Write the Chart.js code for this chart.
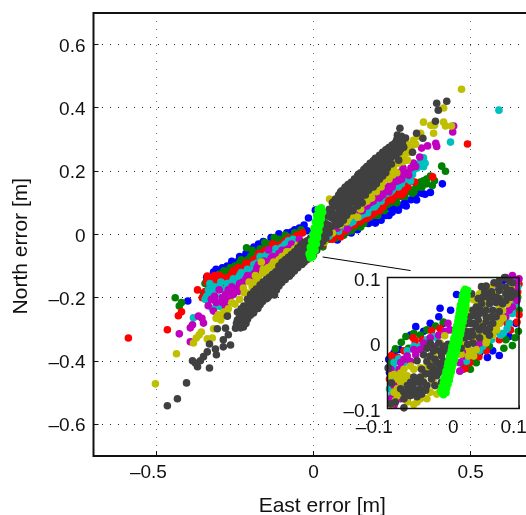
<!DOCTYPE html>
<html>
<head>
<meta charset="utf-8">
<script src="https://cdn.jsdelivr.net/npm/chart.js@4"></script>
<style>
  html, body { margin: 0; padding: 0; background: #fff; overflow: hidden; }
  #wrap { position: relative; width: 526px; height: 515px; overflow: hidden; }
  canvas { position: absolute; }
  #mainChart { left: 0; top: 0; }
  #insetChart { left: 320px; top: 262px; }
</style>
</head>
<body>
<div id="wrap">
  <canvas id="mainChart" width="540" height="515"></canvas>
  <canvas id="insetChart" width="220" height="190"></canvas>
</div>
<script>
// tick labels
const xTicks = [-0.5, 0, 0.5];
const yTicks = [-0.6, -0.4, -0.2, 0, 0.2, 0.4, 0.6];
const insetTicks = [-0.1, 0, 0.1];

// [east, north], main axes
const bluePoints = [[-0.4,-0.21],[-0.318,-0.119],[-0.33,-0.15],[-0.3,-0.115],[-0.285,-0.122],[-0.31,-0.135],[-0.27,-0.11],[-0.255,-0.095],[-0.24,-0.085],[-0.25,-0.11],[-0.22,-0.075],[-0.2,-0.06],[-0.21,-0.085],[-0.185,-0.05],[-0.17,-0.055],[-0.16,-0.022],[-0.145,-0.035],[-0.15,-0.05],[-0.125,-0.02],[-0.105,-0.005],[-0.115,-0.03],[-0.09,-0.01],[-0.07,0.008],[-0.075,-0.02],[-0.05,0.0],[-0.03,0.03],[-0.02,0.012],[-0.045,0.02],[-0.016,0.052],[0.006,0.077],[0.41,0.16],[0.328,0.109],[0.355,0.127],[0.372,0.133],[0.27,0.077],[0.283,0.093],[0.255,0.082],[0.29,0.1],[0.235,0.085],[0.197,0.036],[0.2,0.05],[0.21,0.065],[0.17,0.06],[0.16,0.04],[0.15,0.045],[0.076,-0.017],[0.1,0.005],[0.12,0.02],[0.13,0.035],[0.09,0.015],[0.05,0.0],[0.03,-0.02],[0.31,0.11],[0.33,0.13],[0.24,0.06],[0.22,0.07],[0.185,0.04],
  [-0.34,-0.135],[-0.31,-0.11],[-0.29,-0.105],[-0.275,-0.1],[-0.26,-0.085],[-0.235,-0.07],[-0.215,-0.06],[-0.19,-0.04],[-0.175,-0.03],[-0.155,-0.03],[-0.135,-0.01],[-0.11,0.002],[-0.085,0.005],[-0.06,0.015],[0.06,-0.008],[0.085,0],[0.11,0.01],[0.14,0.025],[0.175,0.035],[0.19,0.05],[0.215,0.045],[0.23,0.06],[0.25,0.07],[0.265,0.09],[0.295,0.09],[0.32,0.115],[0.345,0.13],[0.14,0.015],[0.12,0.005]];
const greenPoints = [[-0.44,-0.2],[-0.42,-0.215],[-0.427,-0.226],[-0.213,-0.042],[-0.345,-0.155],[-0.35,-0.185],[-0.32,-0.15],[-0.33,-0.17],[-0.3,-0.14],[-0.28,-0.125],[-0.26,-0.135],[-0.25,-0.1],[-0.235,-0.09],[-0.22,-0.095],[-0.2,-0.07],[-0.18,-0.065],[-0.17,-0.045],[-0.15,-0.04],[-0.13,-0.035],[-0.11,-0.015],[-0.09,-0.002],[-0.06,0.005],[-0.04,0.015],[0.408,0.216],[0.42,0.2],[0.372,0.185],[0.378,0.155],[0.36,0.16],[0.34,0.166],[0.315,0.13],[0.325,0.147],[0.3,0.135],[0.267,0.12],[0.245,0.1],[0.225,0.09],[0.2,0.07],[0.18,0.055],[0.15,0.024],[0.13,0.022],[0.096,-0.002],[0.07,-0.012],[0.03,-0.039],[0.035,-0.02],[0.345,0.15],
  [0.11,0.01],[0.14,0.03],[0.17,0.05],[0.19,0.06],[0.215,0.08],[0.235,0.095],[0.255,0.11],[0.28,0.12],[0.33,0.155],[0.35,0.17],[0.385,0.17],[-0.08,-0.008],[-0.1,-0.018],[-0.12,-0.025],[-0.14,-0.03],[-0.16,-0.05],[-0.19,-0.06],[-0.21,-0.08],[-0.24,-0.1],[-0.27,-0.12],[-0.29,-0.13],[-0.31,-0.145],[-0.335,-0.16],
  [-0.3,-0.125],[-0.285,-0.115],[-0.265,-0.105],[-0.23,-0.08],[-0.195,-0.05],[-0.155,-0.025],[-0.125,-0.01],[-0.185,-0.06],[-0.34,-0.145],[0.05,-0.015],[0.085,0.005],[0.12,0.012],[0.16,0.035],[0.205,0.06],[0.225,0.075],[0.265,0.1],[0.29,0.12],[0.31,0.14],[0.32,0.135],[0.34,0.15],[0.36,0.175]];
const redPoints = [[-0.589,-0.327],[-0.465,-0.301],[-0.43,-0.257],[-0.42,-0.244],[-0.369,-0.175],[-0.338,-0.131],[-0.354,-0.2],[-0.29,-0.2],[-0.255,-0.115],[-0.296,-0.162],[-0.222,-0.106],[-0.162,-0.06],[-0.32,-0.14],[-0.3,-0.13],[-0.27,-0.15],[-0.25,-0.13],[-0.2,-0.09],[-0.18,-0.075],[-0.14,-0.05],[-0.115,-0.035],[-0.09,-0.02],[-0.06,-0.01],[-0.035,0.005],[0.49,0.286],[0.379,0.182],[0.322,0.166],[0.286,0.13],[0.255,0.134],[0.27,0.145],[0.3,0.15],[0.24,0.115],[0.22,0.087],[0.23,0.1],[0.187,0.064],[0.205,0.08],[0.165,0.05],[0.124,0.036],[0.14,0.045],[0.105,0.02],[0.086,-0.008],[0.06,-0.015],[0.03,-0.03],[0.31,0.17],
  [0.1,0.01],[0.115,0.025],[0.13,0.03],[0.15,0.04],[0.175,0.055],[0.195,0.07],[0.21,0.075],[0.25,0.11],[0.265,0.125],[0.28,0.125],[0.29,0.14],[-0.05,-0.002],[-0.08,-0.012],[-0.1,-0.03],[-0.125,-0.04],[-0.15,-0.055],[-0.17,-0.065],[-0.19,-0.08],[-0.21,-0.1],[-0.235,-0.115],[-0.26,-0.125],[-0.28,-0.145],[-0.31,-0.15],[-0.33,-0.165],[-0.345,-0.18],
  [-0.315,-0.13],[-0.29,-0.135],[-0.24,-0.105],[-0.215,-0.09],[-0.175,-0.06],[-0.155,-0.05],[-0.13,-0.03],[0.07,0.0],[0.09,0.012],[0.12,0.03],[0.16,0.055],[0.18,0.07],[0.2,0.085],[0.215,0.09],[0.26,0.13],[0.28,0.14],[0.3,0.16],[-0.34,-0.15],[-0.3,-0.155],[-0.27,-0.135]];
const cyanPoints = [[0.59,0.393],[0.436,0.292],[0.35,0.242],[0.35,0.214],[0.355,0.225],[0.318,0.204],[0.309,0.169],[0.295,0.18],[0.27,0.16],[0.25,0.14],[0.207,0.109],[0.194,0.087],[0.172,0.068],[0.15,0.06],[0.125,0.04],[0.102,0.024],[0.08,0.01],[0.05,-0.005],[-0.382,-0.263],[-0.322,-0.235],[-0.338,-0.207],[-0.312,-0.21],[-0.334,-0.175],[-0.33,-0.155],[-0.3,-0.2],[-0.239,-0.138],[-0.296,-0.228],[-0.25,-0.16],[-0.23,-0.12],[-0.21,-0.11],[-0.19,-0.095],[-0.17,-0.07],[-0.15,-0.065],[-0.12,-0.045],[-0.09,-0.03],[-0.065,-0.015],[-0.32,-0.19],
  [0.115,0.035],[0.13,0.05],[0.14,0.065],[0.16,0.065],[0.165,0.08],[0.18,0.085],[0.19,0.1],[0.215,0.105],[0.22,0.12],[0.235,0.13],[0.26,0.155],[0.28,0.16],[0.29,0.175],[0.305,0.19],[0.33,0.21],[0.34,0.23],[-0.08,-0.02],[-0.1,-0.04],[-0.11,-0.05],[-0.13,-0.055],[-0.14,-0.065],[-0.16,-0.08],[-0.18,-0.09],[-0.2,-0.115],[-0.22,-0.125],[-0.24,-0.15],[-0.26,-0.15],[-0.27,-0.165],[-0.285,-0.175],[-0.3,-0.165],[-0.31,-0.175],[-0.325,-0.18],[-0.34,-0.195],
  [-0.345,-0.205],[-0.33,-0.2],[-0.315,-0.165],[-0.295,-0.15],[-0.275,-0.155],[-0.255,-0.14],[-0.235,-0.13],[-0.205,-0.125],[-0.185,-0.1],[-0.165,-0.085],[-0.145,-0.075],[-0.105,-0.045],[-0.305,-0.225],[0.095,0.03],[0.11,0.04],[0.145,0.055],[0.155,0.07],[0.175,0.08],[0.2,0.095],[0.245,0.135],[0.27,0.15],[0.315,0.19]];
const magentaPoints = [[0.446,0.343],[0.443,0.324],[0.389,0.288],[0.392,0.278],[0.363,0.28],[0.344,0.273],[0.338,0.245],[0.318,0.226],[0.277,0.197],[0.285,0.21],[0.303,0.187],[0.258,0.166],[0.27,0.17],[0.235,0.15],[0.22,0.134],[0.205,0.125],[0.18,0.1],[0.16,0.087],[0.13,0.06],[0.108,0.017],[0.08,0.03],[0.06,0.01],[-0.427,-0.314],[-0.392,-0.339],[-0.392,-0.295],[-0.385,-0.285],[-0.366,-0.258],[-0.35,-0.28],[-0.355,-0.265],[-0.318,-0.242],[-0.28,-0.228],[-0.267,-0.2],[-0.271,-0.175],[-0.242,-0.169],[-0.3,-0.175],[-0.225,-0.15],[-0.2,-0.134],[-0.21,-0.13],[-0.18,-0.105],[-0.16,-0.085],[-0.143,-0.049],[-0.13,-0.07],[-0.1,-0.05],[-0.07,-0.03],[-0.045,-0.015],[-0.255,-0.19],
  [0.09,0.045],[0.1,0.055],[0.115,0.06],[0.12,0.075],[0.14,0.07],[0.145,0.09],[0.155,0.075],[0.17,0.09],[0.175,0.11],[0.19,0.105],[0.195,0.125],[0.21,0.115],[0.225,0.145],[0.24,0.135],[0.245,0.16],[0.26,0.18],[0.28,0.175],[0.29,0.19],[0.31,0.21],[0.325,0.215],[-0.08,-0.045],[-0.09,-0.06],[-0.11,-0.06],[-0.12,-0.08],[-0.135,-0.075],[-0.145,-0.1],[-0.155,-0.085],[-0.165,-0.11],[-0.175,-0.095],[-0.19,-0.125],[-0.195,-0.145],[-0.215,-0.14],[-0.235,-0.155],[-0.24,-0.18],[-0.26,-0.165],[-0.265,-0.185],[-0.28,-0.19],[-0.29,-0.2],[-0.31,-0.215],[-0.315,-0.195],
  [-0.335,-0.225],[-0.325,-0.205],[-0.29,-0.215],[-0.275,-0.205],[-0.25,-0.175],[-0.23,-0.165],[-0.205,-0.145],[-0.185,-0.12],[-0.15,-0.095],[-0.115,-0.07],[-0.09,-0.05],[0.075,0.02],[0.1,0.04],[0.13,0.065],[0.15,0.085],[0.165,0.095],[0.185,0.105],[0.2,0.12],[0.22,0.125],[0.25,0.15],[0.265,0.17],[0.3,0.195]];
const olivePoints = [[0.471,0.459],[0.414,0.4],[0.35,0.355],[0.373,0.345],[0.385,0.345],[0.414,0.355],[0.42,0.343],[0.439,0.343],[0.382,0.32],[0.341,0.32],[0.318,0.298],[0.33,0.31],[0.287,0.273],[0.3,0.285],[0.299,0.235],[0.28,0.245],[0.245,0.226],[0.262,0.24],[0.252,0.188],[0.235,0.19],[0.22,0.165],[0.205,0.15],[0.188,0.134],[0.175,0.12],[0.16,0.1],[0.15,0.08],[0.14,0.055],[0.125,0.07],[0.11,0.05],[0.086,0.03],[0.051,0.112],[0.035,-0.024],[0.06,0.005],[-0.503,-0.472],[-0.436,-0.377],[-0.382,-0.343],[-0.373,-0.327],[-0.357,-0.308],[-0.364,-0.318],[-0.338,-0.33],[-0.322,-0.327],[-0.318,-0.298],[-0.303,-0.254],[-0.295,-0.27],[-0.271,-0.235],[-0.223,-0.169],[-0.191,-0.153],[-0.162,-0.122],[-0.166,-0.087],[-0.175,-0.135],[-0.127,-0.087],[-0.145,-0.105],[-0.21,-0.185],[-0.1,-0.07],[-0.085,-0.055],[-0.05,-0.035],
  [0.105,0.04],[0.12,0.06],[0.13,0.09],[0.145,0.095],[0.155,0.115],[0.17,0.105],[0.17,0.135],[0.185,0.115],[0.19,0.15],[0.2,0.135],[0.21,0.17],[0.215,0.15],[0.23,0.18],[0.24,0.175],[0.24,0.205],[0.255,0.21],[0.265,0.195],[0.27,0.225],[0.285,0.23],[0.29,0.255],[0.305,0.26],[0.31,0.275],[0.325,0.285],[-0.06,-0.045],[-0.075,-0.055],[-0.09,-0.065],[-0.11,-0.08],[-0.12,-0.1],[-0.135,-0.1],[-0.15,-0.125],[-0.16,-0.11],[-0.175,-0.15],[-0.185,-0.13],[-0.195,-0.165],[-0.205,-0.15],[-0.22,-0.185],[-0.235,-0.205],[-0.25,-0.22],[-0.26,-0.215],[-0.275,-0.25],[-0.285,-0.245],[-0.295,-0.26],[-0.31,-0.265]];
const darkPoints = [[0.424,0.421],[0.392,0.415],[0.397,0.393],[0.388,0.358],[0.275,0.336],[0.328,0.32],[0.348,0.304],[0.267,0.314],[0.265,0.3],[0.293,0.305],[0.255,0.283],[0.236,0.27],[0.287,0.276],[0.315,0.26],[0.261,0.257],[0.271,0.235],[0.248,0.223],[0.197,0.241],[0.184,0.223],[0.166,0.21],[0.143,0.19],[0.102,0.15],[0.086,0.134],[0.064,0.103],
  [-0.465,-0.541],[-0.433,-0.519],[-0.404,-0.469],[-0.331,-0.422],[-0.385,-0.399],[-0.369,-0.418],[-0.376,-0.406],[-0.36,-0.399],[-0.35,-0.386],[-0.338,-0.371],[-0.309,-0.38],[-0.312,-0.362],[-0.287,-0.355],[-0.264,-0.349],[-0.331,-0.346],[-0.287,-0.333],[-0.271,-0.317],[-0.306,-0.298],[-0.28,-0.296],[-0.223,-0.292],[-0.248,-0.296],[-0.274,-0.258],[-0.242,-0.27],[-0.21,-0.26],[-0.191,-0.248],[-0.146,-0.2],[-0.124,-0.191],[-0.178,-0.207],
  [-0.242,-0.245],[-0.236,-0.263],[-0.245,-0.281],[-0.232,-0.295],[-0.222,-0.226],[-0.218,-0.246],[-0.225,-0.262],[-0.215,-0.281],[-0.2,-0.19],[-0.203,-0.211],[-0.196,-0.232],[-0.201,-0.255],[-0.182,-0.172],[-0.178,-0.193],[-0.184,-0.21],[-0.177,-0.234],[-0.16,-0.15],[-0.163,-0.17],[-0.157,-0.191],[-0.162,-0.212],[-0.14,-0.135],[-0.143,-0.154],[-0.138,-0.173],[-0.142,-0.194],[-0.12,-0.118],[-0.117,-0.136],[-0.123,-0.155],[-0.118,-0.175],[-0.1,-0.088],[-0.103,-0.108],[-0.097,-0.127],[-0.101,-0.152],[-0.08,-0.072],[-0.078,-0.091],[-0.083,-0.11],[-0.077,-0.132],[-0.06,-0.055],[-0.063,-0.072],[-0.058,-0.093],[-0.061,-0.115],[-0.04,-0.032],[-0.038,-0.052],[-0.043,-0.071],[-0.037,-0.095],[-0.02,-0.02],[-0.022,-0.041],[-0.018,-0.06],[-0.021,-0.08],[0.001,-0.005],[-0.002,-0.025],[0.003,-0.045],[0,-0.065],
  [0.02,0.03],[0.022,0.01],[0.018,-0.01],[0.021,-0.035],[0.04,0.06],[0.038,0.035],[0.043,0.012],[0.039,-0.012],[0.06,0.1],[0.058,0.075],[0.063,0.05],[0.057,0.025],[0.08,0.125],[0.078,0.1],[0.083,0.078],[0.079,0.05],[0.1,0.148],[0.103,0.125],[0.097,0.1],[0.101,0.08],[0.12,0.165],[0.118,0.145],[0.122,0.122],[0.117,0.1],[0.14,0.185],[0.143,0.165],[0.138,0.145],[0.142,0.122],[0.16,0.205],[0.158,0.185],[0.163,0.165],[0.157,0.145],[0.18,0.225],[0.183,0.205],[0.178,0.185],[0.182,0.165],[0.2,0.24],[0.198,0.22],[0.203,0.2],[0.197,0.18],[0.22,0.26],[0.218,0.24],[0.223,0.222],[0.217,0.205],[0.24,0.275],[0.243,0.255],[0.238,0.24],[0.26,0.29],[0.257,0.27],[0.262,0.25],[0.28,0.31],[0.283,0.29],[0.278,0.27],
  [-0.23,-0.235],[-0.232,-0.254],[-0.228,-0.272],[-0.23,-0.29],[-0.21,-0.205],[-0.212,-0.225],[-0.208,-0.245],[-0.21,-0.268],[-0.19,-0.18],[-0.193,-0.2],[-0.188,-0.222],[-0.19,-0.243],[-0.17,-0.16],[-0.168,-0.18],[-0.172,-0.202],[-0.17,-0.222],[-0.15,-0.142],[-0.152,-0.162],[-0.148,-0.182],[-0.15,-0.203],[-0.13,-0.125],[-0.128,-0.145],[-0.132,-0.165],[-0.13,-0.185],[-0.11,-0.1],[-0.112,-0.12],[-0.108,-0.142],[-0.11,-0.163],[-0.09,-0.08],[-0.088,-0.1],[-0.092,-0.12],[-0.09,-0.142],[-0.07,-0.063],[-0.072,-0.082],[-0.068,-0.102],[-0.07,-0.124],[-0.05,-0.043],[-0.048,-0.062],[-0.052,-0.082],[-0.05,-0.105],[-0.03,-0.025],[-0.032,-0.045],[-0.028,-0.065],[-0.03,-0.088],[-0.01,-0.012],[-0.012,-0.033],[-0.008,-0.053],[-0.01,-0.072],
  [0.01,0.012],[0.012,-0.008],[0.008,-0.028],[0.01,-0.05],[0.03,0.045],[0.028,0.022],[0.032,0],[0.03,-0.022],[0.05,0.08],[0.052,0.055],[0.048,0.03],[0.05,0.005],[0.07,0.112],[0.068,0.088],[0.072,0.063],[0.07,0.04],[0.09,0.138],[0.092,0.113],[0.088,0.088],[0.09,0.065],[0.11,0.158],[0.108,0.135],[0.112,0.112],[0.11,0.09],[0.13,0.175],[0.132,0.155],[0.128,0.133],[0.13,0.11],[0.15,0.195],[0.148,0.175],[0.152,0.155],[0.15,0.133],[0.17,0.215],[0.172,0.195],[0.168,0.175],[0.17,0.155],[0.19,0.233],[0.188,0.213],[0.192,0.193],[0.19,0.173],[0.21,0.25],[0.212,0.23],[0.208,0.21],[0.21,0.193],[0.23,0.268],[0.228,0.248],[0.232,0.23],[0.25,0.283],[0.252,0.263],[0.248,0.245],[0.27,0.3],[0.268,0.28],[0.272,0.26],
  [0.2,0.16],[0.21,0.175],[0.19,0.15],[0.175,0.14],[0.165,0.125],[0.15,0.115],[0.155,0.1],[0.135,0.1],[0.14,0.09],[0.12,0.08],[0.125,0.075],[0.105,0.06],[0.11,0.07],[0.095,0.045],[0.085,0.035],[0.075,0.03],[0.235,0.21],[0.245,0.225],[0.23,0.195],[0.22,0.185],[0.18,0.148]];
const limePoints = [[-0.01,-0.074],[-0.012,-0.066],[-0.006,-0.07],[-0.008,-0.058],[-0.002,-0.062],[-0.007,-0.048],[0,-0.052],[-0.004,-0.038],[0.003,-0.042],[-0.001,-0.028],[0.005,-0.032],[0.001,-0.018],[0.007,-0.02],[0.003,-0.008],[0.01,-0.01],[0.005,0.002],[0.012,0],[0.007,0.012],[0.014,0.01],[0.009,0.022],[0.016,0.02],[0.011,0.032],[0.018,0.03],[0.013,0.042],[0.02,0.04],[0.015,0.052],[0.022,0.05],[0.017,0.062],[0.024,0.06],[0.019,0.072],[0.026,0.072],[0.022,0.08],[0.025,0.084],
  [-0.003,-0.07],[0.005,-0.05],[0.009,-0.03],[0.013,-0.01],[0.017,0.01],[0.021,0.03],[0.025,0.05],[0.029,0.07],[-0.014,-0.06],[-0.01,-0.04],[-0.006,-0.02],[-0.002,0],[0.002,0.02],[0.006,0.04],[0.01,0.06],[0.015,0.08]];
const connectorEast = [0.029, 0.309];
const connectorNorth = [-0.071, -0.114];

// [east, north], zoomed axes
const insetBlue = [[-0.057,0.025],[-0.022,0.04],[-0.02,0.053],[0.005,0.074],[-0.015,0.03],[0.07,-0.019],[0.052,-0.022],[-0.098,-0.025],[-0.09,-0.015],[0.059,0.082],[-0.035,0.03],[-0.045,0.018],[-0.065,0.012],[-0.082,-0.01],[0.075,0.095],[0.09,0.09],[0.04,-0.015],[0.03,-0.025],[0.06,-0.012],[0.085,0.01],[0.095,0.03],[0.016,-0.032],[-0.097,-0.045],[-0.004,0.05]];
const insetGreen = [[-0.072,0.01],[-0.079,0.001],[-0.088,-0.009],[-0.027,0.026],[0.026,-0.04],[0.09,-0.004],[0.077,-0.008],[0.099,0.018],[0.094,0.008],[-0.068,-0.008],[-0.05,0.012],[-0.04,0.02],[-0.015,0.032],[0.02,-0.03],[0.035,-0.03],[0.055,-0.005],[0.08,0.005],[-0.095,-0.03],[0.1,0.05],[0.098,0.07],[-0.06,0.015],[0.015,-0.04]];
const insetRed = [[-0.033,0.019],[-0.058,0.003],[-0.061,0.008],[-0.094,-0.019],[0.039,-0.021],[0.018,-0.039],[0.087,0.02],[0.1,0.043],[0.097,0.032],[0.092,0.06],[0.098,0.078],[-0.075,-0.012],[-0.047,0.005],[-0.02,0.022],[0.025,-0.03],[0.05,-0.012],[0.07,0.005],[-0.085,-0.022],[-0.097,-0.055],[0.1,0.09],[0.082,0.03]];
const insetCyan = [[-0.027,0.009],[-0.083,-0.024],[-0.095,-0.058],[0.076,0.015],[0.066,0.018],[0.085,0.03],[0.09,0.045],[0.095,0.06],[-0.03,0.01],[-0.04,0.005],[-0.09,-0.03],[-0.075,-0.03],[-0.097,-0.07],[-0.093,-0.08],[0.03,-0.018],[0.045,-0.005],[0.058,0.005],[0.02,-0.028],[0.098,0.085],[-0.05,-0.005],[0.097,0.095],[-0.088,-0.04],[-0.07,-0.012],[-0.06,-0.005],[0.04,-0.012],[0.072,0.012],[0.082,0.022]];
const insetMagenta = [[-0.012,0.018],[-0.07,-0.02],[-0.057,-0.018],[-0.088,-0.073],[-0.022,0.012],[-0.04,-0.002],[-0.05,-0.01],[-0.082,-0.04],[-0.09,-0.05],[-0.085,-0.06],[-0.065,-0.028],[-0.08,-0.085],[-0.07,-0.088],[0.01,-0.03],[0.01,-0.043],[0.025,-0.012],[0.04,0.0],[0.055,0.015],[0.07,0.03],[0.085,0.05],[0.09,0.07],[0.095,0.08],[0.08,0.1],[0.09,0.103],[0.1,0.098],[0.075,0.04],[-0.005,0.02],[-0.008,0.03],[-0.09,-0.095],[-0.095,-0.085],[0.06,0.03],[0.097,0.065],[-0.03,-0.005],[0.045,0.015],[-0.06,-0.01],[-0.075,-0.025],[-0.08,-0.03],[-0.045,0],[-0.035,0.008],[0.015,-0.02],[0.02,-0.015],[0.035,-0.005],[0.05,0.005],[0.065,0.02],[0.08,0.04],[0.09,0.055],[-0.09,-0.065],[-0.095,-0.04],[0.065,0.09],[0.095,0.09]];
const insetOlive = [[-0.08,-0.046],[-0.065,-0.035],[-0.05,-0.038],[-0.055,-0.055],[-0.085,-0.07],[-0.025,-0.078],[-0.095,-0.094],[-0.06,-0.094],[-0.013,0.011],[0.031,-0.02],[0.023,-0.02],[0.051,0.005],[0.076,0.038],[0.076,0.068],[0.031,0.066],[0.036,0.02],[0.066,0.02],[-0.075,-0.055],[-0.09,-0.048],[-0.07,-0.05],[-0.06,-0.04],[-0.075,-0.04],[-0.04,-0.03],[-0.03,-0.02],[-0.045,-0.05],[-0.085,-0.055],[-0.07,-0.09],[-0.035,-0.075],[-0.05,-0.085],[-0.015,-0.01],[0.02,-0.005],[0.03,0.005],[0.045,0.03],[0.06,0.045],[0.07,0.055],[0.082,0.06],[0.08,0.08],[0.065,0.075],[0.05,0.06],[0.04,0.075],[0.088,0.085],[-0.02,0.0],[0.012,-0.017],[-0.088,-0.088],[0.055,0.035],[0.072,0.05],[-0.085,-0.08],[-0.08,-0.075],[-0.055,-0.09],[-0.04,-0.085],[-0.03,-0.03],[-0.025,-0.012],[0.035,0.01],[0.06,0.012],[0.07,0.03],[0.025,-0.012],[0.045,0.012],[0.09,0.075],[0.085,0.07],
  [-0.09,-0.075],[-0.095,-0.05],[-0.08,-0.06],[-0.04,-0.04],[-0.025,-0.04],[-0.03,-0.06],[-0.02,-0.07],[-0.01,-0.055],[-0.005,-0.02],[0.015,0],[0.015,0.025],[0.025,0.05],[0.035,0.065],[0.058,0.085],[0.072,0.085],[0.075,0.05],[0.065,0.045],[0.085,0.065],[0.035,-0.01],[0.05,0],[0.06,0.02]];
const insetDark = [[-0.094,-0.061],[-0.099,-0.038],[-0.075,-0.099],[-0.095,-0.093],[-0.088,-0.09],[-0.075,-0.075],[-0.07,-0.065],[-0.065,-0.08],[-0.06,-0.07],[-0.055,-0.082],[-0.05,-0.07],[-0.065,-0.06],[-0.06,-0.052],[-0.052,-0.06],[-0.045,-0.06],[-0.075,-0.085],[-0.068,-0.072],[-0.04,-0.065],[-0.042,-0.047],[-0.033,-0.055],[-0.025,-0.05],[-0.03,-0.04],[-0.02,-0.035],[-0.04,-0.028],[-0.055,-0.027],[-0.035,-0.02],[-0.028,-0.008],[-0.018,-0.02],[-0.04,-0.008],[-0.035,0.0],[-0.022,0.0],[-0.012,-0.012],[-0.01,-0.03],[-0.013,-0.045],[-0.028,-0.065],[-0.018,-0.06],[-0.008,-0.002],
  [0.043,0.086],[0.05,0.087],[0.062,0.092],[0.07,0.095],[0.085,0.095],[0.09,0.092],[0.08,0.085],[0.07,0.08],[0.058,0.078],[0.05,0.072],[0.035,0.055],[0.043,0.06],[0.055,0.06],[0.065,0.062],[0.075,0.06],[0.045,0.048],[0.032,0.042],[0.025,0.04],[0.03,0.03],[0.038,0.035],[0.05,0.04],[0.06,0.03],[0.065,0.04],[0.02,0.03],[0.02,0.018],[0.028,0.018],[0.04,0.02],[0.05,0.018],[0.055,0.022],[0.018,0.008],[0.022,-0.002],[0.03,0.0],[0.04,0.008],[0.015,0.05],[0.028,0.075],[0.06,0.05],[0.08,0.075],[0.078,0.1],[0.095,0.075],[0.012,-0.008],[0.008,0.002],
  [-0.062,-0.062],[-0.057,-0.075],[-0.048,-0.078],[-0.042,-0.072],[-0.05,-0.052],[-0.035,-0.047],[-0.025,-0.03],[-0.015,-0.028],[-0.045,-0.018],[-0.03,-0.012],[-0.015,-0.005],[0.025,0.01],[0.035,0.025],[0.03,0.05],[0.04,0.045],[0.05,0.05],[0.07,0.068],[0.06,0.07],[0.045,0.07],[0.055,0.012],[0.07,0.088],[0.088,0.08],
  [0.025,0.03],[0.03,0.012],[0.045,0.025],[0.05,0.032],[0.058,0.04],[0.07,0.048],[0.08,0.065],[0.088,0.07],[0.065,0.07],[0.055,0.068],[0.04,0.052],[0.038,0.068],[0.048,0.078],[-0.08,-0.07],[-0.07,-0.08],[-0.058,-0.06],[-0.035,-0.035],[-0.02,-0.012],[-0.048,-0.04],[-0.03,-0.048],[-0.015,-0.038],[-0.022,-0.045],[-0.028,-0.025]];
const insetLime = [[-0.015,-0.079],[-0.019,-0.074],[-0.011,-0.076],[-0.017,-0.067],[-0.01,-0.069],[-0.015,-0.061],[-0.008,-0.063],[-0.014,-0.055],[-0.006,-0.057],[-0.012,-0.049],[-0.005,-0.05],[-0.011,-0.043],[-0.003,-0.044],[-0.009,-0.036],[-0.002,-0.038],[-0.008,-0.03],[0,-0.032],[-0.006,-0.024],[0.002,-0.025],[-0.005,-0.018],[0.003,-0.019],[-0.003,-0.012],[0.005,-0.013],[-0.002,-0.005],[0.006,-0.006],[0,0.001],[0.008,0],[0.001,0.007],[0.009,0.006],[0.003,0.014],[0.011,0.013],[0.004,0.02],[0.012,0.019],[0.005,0.026],[0.013,0.025],[0.007,0.033],[0.015,0.032],[0.008,0.039],[0.016,0.038],[0.009,0.045],[0.017,0.045],[0.01,0.052],[0.018,0.052],[0.011,0.058],[0.019,0.058],[0.013,0.065],[0.02,0.065],[0.014,0.072],[0.021,0.072],[0.016,0.078],[0.022,0.08],[0.018,0.082]];

const seriesColors = {
  blue: "#0000ff",
  green: "#008000",
  red: "#ff0000",
  cyan: "#00bfbf",
  magenta: "#bf00bf",
  olive: "#bfbf00",
  dark: "#404040",
  lime: "#00ff00",
};

const FONT = "'Liberation Sans', Arial, sans-serif";

// first dataset ends up on top in Chart.js, so lime goes first
function pointSet(points, color) {
  return {
    data: points.map((p) => ({ x: p[0], y: p[1] })),
    backgroundColor: color,
    borderWidth: 0,
    pointRadius: 3.8,
    clip: false,
  };
}

function tickLabel(value) {
  return String(value).replace("-", "\u2013");
}

// empty first line plus a small lineHeight moves the label down a touch
function yLabel(value) {
  return ["", tickLabel(value)];
}

// the minus hangs out to the left in the original, trailing spaces push it over
function mainXLabel(value) {
  return value < 0 ? tickLabel(value) + "   " : tickLabel(value);
}

function insetXLabel(value) {
  if (value < 0) return tickLabel(value) + "     ";
  return value > 0 ? tickLabel(value) + "  " : tickLabel(value);
}

function fixedTicks(values) {
  return function (scale) {
    scale.ticks = values.map((v) => ({ value: v }));
  };
}

// keep the plot box where it belongs, labels may stick out of it
function noMargins(scale) {
  scale.paddingLeft = 0;
  scale.paddingRight = 0;
  scale.paddingTop = 0;
  scale.paddingBottom = 0;
}

// white backing and the axes box, Matlab style
function framePlugin(fillBack, lineWidth) {
  return {
    id: "frame",
    beforeDatasetsDraw(chart) {
      const a = chart.chartArea;
      const ctx = chart.ctx;
      if (fillBack) {
        ctx.save();
        ctx.fillStyle = "#fff";
        ctx.fillRect(a.left, a.top, a.width, a.height);
        ctx.restore();
      }
    },
    afterDraw(chart) {
      const a = chart.chartArea;
      const ctx = chart.ctx;
      ctx.save();
      ctx.strokeStyle = "#111";
      ctx.lineWidth = lineWidth;
      ctx.strokeRect(a.left, a.top, a.width, a.height);
      ctx.restore();
    },
  };
}

new Chart(document.getElementById("mainChart"), {
  type: "scatter",
  data: {
    datasets: [
      {
        data: connectorEast.map((e, i) => ({ x: e, y: connectorNorth[i] })),
        showLine: true,
        borderColor: "#000",
        borderWidth: 1,
        pointRadius: 0,
      },
      pointSet(limePoints, seriesColors.lime),
      pointSet(darkPoints, seriesColors.dark),
      pointSet(olivePoints, seriesColors.olive),
      pointSet(magentaPoints, seriesColors.magenta),
      pointSet(cyanPoints, seriesColors.cyan),
      pointSet(redPoints, seriesColors.red),
      pointSet(greenPoints, seriesColors.green),
      pointSet(bluePoints, seriesColors.blue),
    ],
  },
  options: {
    responsive: false,
    animation: false,
    devicePixelRatio: 1,
    layout: { padding: { left: 0, top: 13, right: 6.5, bottom: 0 } },
    plugins: { legend: { display: false }, tooltip: { enabled: false } },
    scales: {
      x: {
        type: "linear",
        min: -0.7,
        max: 0.7,
        afterBuildTicks: fixedTicks(xTicks),
        afterFit: (s) => { s.height = 59; noMargins(s); },
        border: { display: false, dash: [1, 7] },
        grid: { color: "#777", tickLength: -5, tickColor: "#111" },
        ticks: { callback: mainXLabel, color: "#111", padding: 10, maxRotation: 0, autoSkip: false, font: { family: FONT, size: 19 } },
        title: { display: true, text: "   East error [m]", color: "#111", padding: { top: 0, bottom: -3.5 }, font: { family: FONT, size: 21 } },
      },
      y: {
        type: "linear",
        min: -0.7,
        max: 0.7,
        afterBuildTicks: fixedTicks(yTicks),
        afterFit: (s) => { s.width = 93.5; noMargins(s); },
        border: { display: false, dash: [1, 7] },
        grid: { color: "#222", tickLength: -5, tickColor: "#111" },
        ticks: { callback: yLabel, color: "#111", padding: 13, autoSkip: false, font: { family: FONT, size: 19, lineHeight: 0.2 } },
        title: { display: true, text: "North error [m]    ", color: "#111", padding: { top: 9, bottom: 0 }, font: { family: FONT, size: 21 } },
      },
    },
  },
  plugins: [framePlugin(false, 2)],
});

new Chart(document.getElementById("insetChart"), {
  type: "scatter",
  data: {
    datasets: [
      pointSet(insetLime, seriesColors.lime),
      pointSet(insetDark, seriesColors.dark),
      pointSet(insetOlive, seriesColors.olive),
      pointSet(insetMagenta, seriesColors.magenta),
      pointSet(insetCyan, seriesColors.cyan),
      pointSet(insetRed, seriesColors.red),
      pointSet(insetGreen, seriesColors.green),
      pointSet(insetBlue, seriesColors.blue),
    ],
  },
  options: {
    responsive: false,
    animation: false,
    devicePixelRatio: 1,
    layout: { padding: { left: 0, top: 15.5, right: 21, bottom: 0 } },
    plugins: { legend: { display: false }, tooltip: { enabled: false } },
    scales: {
      x: {
        type: "linear",
        min: -0.1,
        max: 0.1,
        afterBuildTicks: fixedTicks(insetTicks),
        afterFit: (s) => { s.height = 43.5; noMargins(s); },
        border: { display: false },
        grid: { drawOnChartArea: false, tickLength: -3, tickColor: "#111" },
        ticks: { callback: insetXLabel, color: "#111", padding: 11, maxRotation: 0, autoSkip: false, font: { family: FONT, size: 19 } },
      },
      y: {
        type: "linear",
        min: -0.1,
        max: 0.1,
        afterBuildTicks: fixedTicks(insetTicks),
        afterFit: (s) => { s.width = 67.5; noMargins(s); },
        border: { display: false },
        grid: { drawOnChartArea: false, tickLength: -3, tickColor: "#111" },
        ticks: { callback: yLabel, color: "#111", padding: 10, autoSkip: false, font: { family: FONT, size: 19, lineHeight: 0.32 } },
      },
    },
  },
  plugins: [framePlugin(true, 1.5)],
});
</script>
</body>
</html>
